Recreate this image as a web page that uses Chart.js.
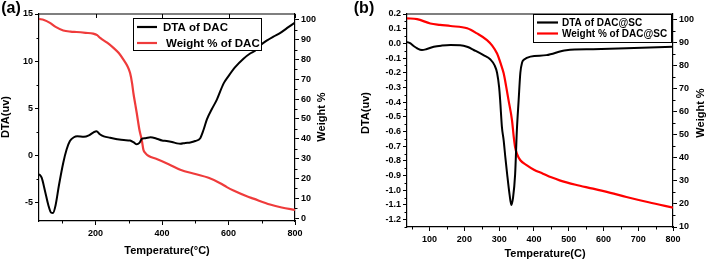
<!DOCTYPE html>
<html><head><meta charset="utf-8">
<script src="https://cdn.jsdelivr.net/npm/chart.js@4/dist/chart.umd.min.js"></script>
<style>
html,body{margin:0;padding:0;background:#fff;width:706px;height:260px;overflow:hidden}
.p{position:absolute;top:0;width:353px;height:260px}
</style></head><body>
<div class="p" style="left:0"><canvas id="ca" width="353" height="260"></canvas></div>
<div class="p" style="left:353px"><canvas id="cb" width="353" height="260"></canvas></div>
<script>
// ---------- Panel (a) data ----------
const tempDtaA = [30,38,48,58,66,72,80,90,103,113,123,135,145,165,180,193,203,212,225,244,265,285,304,315,324,332,340,350,365,384,400,414,430,445,455,470,485,500,515,525,535,550,565,585,600,620,645,665,680,695,716,735,756,780,800];
const dtaA     = [-2.0,-2.4,-3.8,-5.3,-6.1,-6.15,-5.3,-3.2,-0.8,0.6,1.5,1.9,2.0,1.95,2.1,2.4,2.55,2.25,2.0,1.85,1.7,1.6,1.55,1.35,1.15,1.3,1.75,1.8,1.9,1.75,1.55,1.5,1.4,1.25,1.2,1.3,1.35,1.5,1.8,2.7,3.8,4.9,5.9,7.6,8.4,9.35,10.25,10.8,11.1,11.65,12.2,12.6,13.0,13.6,14.1];
const tempWtA  = [30,45,63,80,103,125,143,170,193,205,214,235,254,270,284,295,304,310,314,320,324,332,339,344,350,360,384,420,455,500,540,575,595,615,655,675,725,760,800];
const wtA      = [100.5,100,98.5,96.5,94.7,94.1,93.9,93.5,93.1,92.3,90.9,88.5,85.9,83.3,80,77,73.2,68,63,57,53,44.6,39.5,34.5,32.8,31.3,29.8,27.2,24.4,22.2,20.3,17.6,15.6,13.9,11.0,9.8,6.8,5.3,4.1];
const xTicksA = [200,400,600,800];
const yTicksA = [-5,0,5,10,15];
const y1TicksA = [0,10,20,30,40,50,60,70,80,90,100];
const labelsA = ['DTA of DAC','Weight % of DAC'];

// ---------- Panel (b) data ----------
const tempDtaB = [35,45,55,65,78,90,112,135,160,188,210,227,255,275,287,294,300,303,308,313,318,323,330,335,340,346,351,356,361,366,372,390,436,493,570,666,800];
const dtaB     = [0.01,0.0,-0.02,-0.035,-0.045,-0.04,-0.023,-0.015,-0.011,-0.012,-0.025,-0.045,-0.08,-0.11,-0.15,-0.2,-0.3,-0.39,-0.57,-0.66,-0.78,-0.89,-1.03,-1.10,-1.05,-0.89,-0.59,-0.39,-0.2,-0.13,-0.11,-0.09,-0.08,-0.046,-0.04,-0.034,-0.023];
const tempWtB  = [35,64,102,130,160,208,236,265,280,294,305,313,320,327,337,342,346,351,361,380,400,426,450,474,520,570,620,666,730,800];
const wtB      = [100.3,100,98.1,97.5,97,96,93.8,90.9,88.5,85.1,80.5,76.5,71,64.9,56.2,49,44.5,41.8,38.9,36.7,34.8,33.1,31.5,30.2,28.3,26.6,24.8,23,20.7,18.4];
const xTicksB = [100,200,300,400,500,600,700,800];
const yTicksB = [-1.2,-1.1,-1.0,-0.9,-0.8,-0.7,-0.6,-0.5,-0.4,-0.3,-0.2,-0.1,0.0,0.1,0.2];
const y1TicksB = [10,20,30,40,50,60,70,80,90,100];
const labelsB = ['DTA of DAC@SC','Weight % of DAC@SC'];

const FONT = '"Liberation Sans", Arial, sans-serif';
const pts = (xs, ys) => xs.map((x,i)=>({x, y: ys[i]}));

const deco = {
  id: 'deco',
  afterDraw(chart, args, o) {
    const {ctx, chartArea: a} = chart;
    ctx.save();
    ctx.strokeStyle = '#000'; ctx.fillStyle = '#000'; ctx.lineWidth = 1.2;
    ctx.beginPath(); ctx.moveTo(a.left, a.top); ctx.lineTo(a.right, a.top); ctx.stroke();
    ctx.lineWidth = 1;
    const sx = chart.scales.x;
    const xt = sx.ticks.map(t=>t.value), xs = xt[1]-xt[0];
    for (let v = xt[0]-xs/2; v <= sx.max + 1e-9; v += xs) {
      if (v < sx.min) continue;
      const p = Math.round(sx.getPixelForValue(v))+0.5;
      ctx.beginPath(); ctx.moveTo(p, a.bottom); ctx.lineTo(p, a.bottom+2.5); ctx.stroke();
    }
    if (o.topTicks) {
      for (const v of xt) {
        const p = Math.round(sx.getPixelForValue(v))+0.5;
        ctx.beginPath(); ctx.moveTo(p, a.top); ctx.lineTo(p, a.top+4); ctx.stroke();
      }
    }
    for (const id of ['y','y1']) {
      const s = chart.scales[id];
      const t = s.ticks.map(k=>k.value), st = t[1]-t[0];
      const left = id === 'y';
      for (let v = t[0]-st/2; v <= s.max + 1e-9; v += st) {
        if (v < s.min) continue;
        const p = Math.round(s.getPixelForValue(v))+0.5;
        const x0 = left ? a.left : a.right;
        ctx.beginPath(); ctx.moveTo(x0, p); ctx.lineTo(left ? x0-2.5 : x0+2.5, p); ctx.stroke();
      }
    }
    const txt = (s, x, y, font, rot) => {
      ctx.save(); ctx.translate(x, y); if (rot) ctx.rotate(rot);
      ctx.font = font; ctx.textAlign = 'center'; ctx.textBaseline = 'middle';
      ctx.fillText(s, 0, 0); ctx.restore();
    };
    txt(o.panel, o.panelX, 9, 'bold 16px ' + FONT);
    txt(o.xTitle, o.xTitleX, o.xTitleY, 'bold 11px ' + FONT);
    txt('DTA(uv)', o.yTitleX, o.yTitleY, 'bold 11px ' + FONT, -Math.PI/2);
    txt('Weight %', o.y1TitleX, o.y1TitleY, 'bold 11px ' + FONT, -Math.PI/2);
    const L = o.legend;
    ctx.fillStyle = '#fff';
    ctx.fillRect(L.x, L.y, L.w, L.h);
    ctx.lineWidth = 1; ctx.strokeStyle = '#000';
    ctx.strokeRect(L.x+0.5, L.y+0.5, L.w, L.h);
    chart.data.datasets.forEach((ds, i) => {
      const yy = L.y + L.row0 + i*L.dy;
      ctx.strokeStyle = ds.borderColor; ctx.lineWidth = 2.2;
      ctx.beginPath(); ctx.moveTo(L.x + 4, yy); ctx.lineTo(L.x + 4 + L.len, yy); ctx.stroke();
      ctx.fillStyle = '#000'; ctx.font = 'bold ' + L.fs + 'px ' + FONT;
      ctx.textAlign = 'left'; ctx.textBaseline = 'middle';
      ctx.fillText(ds.label, L.x + L.tx + (i ? L.tx2 : 0), yy + 0.5);
    });
    ctx.restore();
  }
};

function axis(pos, min, max, ticksArr, fit, fmt, pad) {
  return {
    type: 'linear', position: pos, min, max,
    grid: { display: true, drawOnChartArea: false, drawTicks: true, tickLength: 4, color: '#000', lineWidth: 1 },
    border: { display: true, color: '#000', width: 1.2 },
    ticks: { color: '#000', font: { family: FONT, size: 9, weight: 'bold' }, padding: pad || 2, maxRotation: 0, autoSkip: false,
      callback: fmt || (v => String(v)) },
    afterBuildTicks: s => { s.ticks = ticksArr.map(v => ({ value: v })); },
    afterFit: s => { if (pos === 'bottom') s.height = fit; else s.width = fit; }
  };
}

function make(id, d1, d2, labels, red, sc, deco_) {
  return new Chart(document.getElementById(id), {
    type: 'line',
    data: { datasets: [
      { label: labels[0], data: d1, yAxisID: 'y', borderColor: '#000', borderWidth: 2, pointRadius: 0, cubicInterpolationMode: 'monotone', fill: false },
      { label: labels[1], data: d2, yAxisID: 'y1', borderColor: red, borderWidth: 2.2, pointRadius: 0, cubicInterpolationMode: 'monotone', fill: false }
    ]},
    options: {
      responsive: false, animation: false, devicePixelRatio: 1,
      layout: { padding: { top: 14, left: 0, right: 0, bottom: 0 } },
      plugins: { legend: { display: false }, tooltip: { enabled: false }, deco: deco_ },
      scales: sc
    },
    plugins: [deco]
  });
}

make('ca', pts(tempDtaA, dtaA), pts(tempWtA, wtA), labelsA, '#ef3b3b', {
  x: axis('bottom', 30, 800, xTicksA, 39, null, 3),
  y: axis('left', -7, 15, yTicksA, 39),
  y1: axis('right', -1.5, 103, y1TicksA, 58)
}, { panel: '(a)', panelX: 11, topTicks: true,
     xTitle: 'Temperature(°C)', xTitleX: 167, xTitleY: 251,
     yTitleX: 6, yTitleY: 117, y1TitleX: 322, y1TitleY: 117,
     legend: { x: 133, y: 18, w: 128, h: 32, row0: 9, dy: 16, len: 20, tx: 30, tx2: 3, fs: 11.5 } });

make('cb', pts(tempDtaB, dtaB), pts(tempWtB, wtB), labelsB, '#ff0000', {
  x: axis('bottom', 35, 800, xTicksB, 33, null, 3),
  y: axis('left', -1.25, 0.2, yTicksB, 54, v => v.toFixed(1)),
  y1: axis('right', 10, 102.2, y1TicksB, 33)
}, { panel: '(b)', panelX: 11, topTicks: false,
     xTitle: 'Temperature(C)', xTitleX: 192, xTitleY: 254,
     yTitleX: 13, yTitleY: 113, y1TitleX: 348, y1TitleY: 113,
     legend: { x: 180, y: 14, w: 138, h: 28, row0: 8.5, dy: 11, len: 21, tx: 29, tx2: 0, fs: 10 } });
</script>
</body></html>
